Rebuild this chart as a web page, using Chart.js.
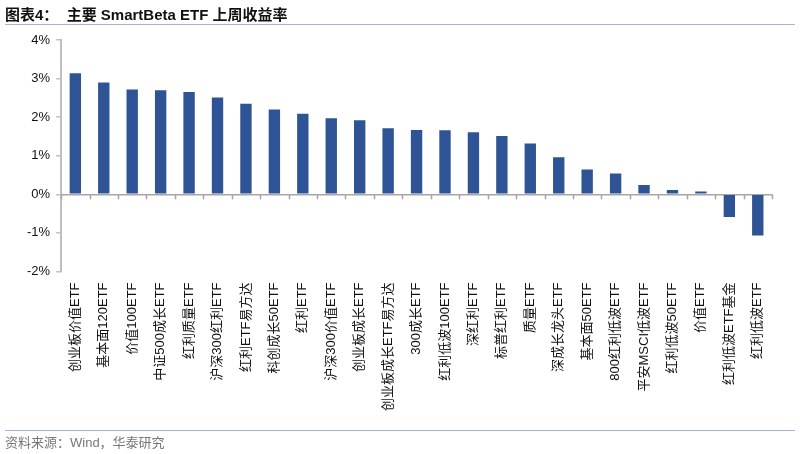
<!DOCTYPE html>
<html><head><meta charset="utf-8">
<script src="https://cdn.jsdelivr.net/npm/chart.js@4/dist/chart.umd.min.js"></script>
<style>
html,body{margin:0;padding:0;background:#fff;width:800px;height:454px;overflow:hidden;font-family:"Liberation Sans","Noto Sans CJK SC",sans-serif;}
#title{position:absolute;left:5px;top:3px;font-size:15px;font-weight:bold;color:#111;white-space:pre;}
#tline{position:absolute;left:5px;top:24px;width:790px;height:0;border-top:1.5px solid #A3B5CF;}
#fline{position:absolute;left:5px;top:430px;width:790px;height:0;border-top:1.5px solid #A3B5CF;}
#foot{position:absolute;left:5px;top:432px;font-size:13px;color:#777;white-space:pre;}
#wrap{position:absolute;left:0;top:0;width:800px;height:454px;}
</style></head>
<body>
<div id="wrap"><canvas id="c"></canvas></div>
<div id="title">图表4：  主要 SmartBeta ETF 上周收益率</div>
<div id="tline"></div>
<div id="fline"></div>
<div id="foot">资料来源：Wind，华泰研究</div>
<script>
const categories = ["创业板价值ETF","基本面120ETF","价值100ETF","中证500成长ETF","红利质量ETF","沪深300红利ETF","红利ETF易方达","科创成长50ETF","红利ETF","沪深300价值ETF","创业板成长ETF","创业板成长ETF易方达","300成长ETF","红利低波100ETF","深红利ETF","标普红利ETF","质量ETF","深成长龙头ETF","基本面50ETF","800红利低波ETF","平安MSCI低波ETF","红利低波50ETF","价值ETF","红利低波ETF基金","红利低波ETF"];
const returns = [3.14,2.90,2.72,2.70,2.65,2.51,2.35,2.20,2.09,1.97,1.92,1.71,1.67,1.66,1.61,1.51,1.32,0.96,0.64,0.54,0.24,0.11,0.07,-0.59,-1.07];
const yTicks = [-2,-1,0,1,2,3,4];

const zeroTicks = {
  id:'zeroTicks',
  afterDatasetsDraw(chart){
    const x = chart.scales.x, y = chart.scales.y, ctx = chart.ctx;
    const y0 = y.getPixelForValue(0);
    ctx.save();
    ctx.strokeStyle = '#A6A6A6'; ctx.lineWidth = 1.5;
    const n = categories.length;
    const w = (x.getPixelForValue(n-1) - x.getPixelForValue(0))/(n-1);
    for(let i=0;i<=n;i++){
      const px = Math.round(x.getPixelForValue(0) - w/2 + i*w)+0.5;
      ctx.beginPath(); ctx.moveTo(px,y0); ctx.lineTo(px,y0+5); ctx.stroke();
    }
    ctx.restore();
  }
};

new Chart(document.getElementById('c'),{
  type:'bar',
  data:{labels:categories,datasets:[{data:returns,backgroundColor:'#2E5496',borderWidth:0,barPercentage:0.4,categoryPercentage:1}]},
  options:{
    responsive:true,maintainAspectRatio:false,animation:false,
    layout:{padding:{left:21,right:28,top:40,bottom:40}},
    plugins:{legend:{display:false},tooltip:{enabled:false}},
    scales:{
      x:{grid:{display:false},border:{display:false},
         ticks:{minRotation:90,maxRotation:90,autoSkip:false,color:'#111',padding:3,font:{size:13,family:'"Liberation Sans","Noto Sans CJK SC"'}}},
      y:{min:-2,max:4,
         afterBuildTicks(s){s.ticks = yTicks.map(v=>({value:v}));},
         grid:{color:c=>c.tick && c.tick.value===0?'#A6A6A6':'rgba(0,0,0,0)',lineWidth:1.5,tickColor:'#BFBFBF',tickLength:5,drawTicks:true},
         border:{display:true,color:'#BFBFBF',width:2},
         ticks:{color:'#111',padding:6,font:{size:13,family:'"Liberation Sans"'},callback:v=>v+'%'}}
    }
  },
  plugins:[zeroTicks]
});
</script>
</body></html>
